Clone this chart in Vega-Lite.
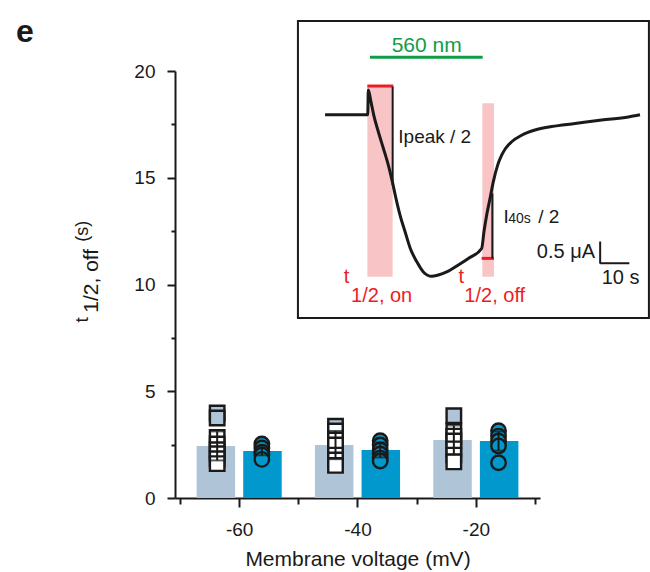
{
  "$schema": "https://vega.github.io/schema/vega-lite/v6.json",
  "width": 365,
  "height": 427,
  "autosize": {"type": "none"},
  "padding": {"left": 175, "top": 71, "right": 110, "bottom": 74},
  "background": "white",
  "config": {
    "view": {"stroke": null},
    "font": "Liberation Sans",
    "axis": {"domainColor": "#1a1a1a", "domainWidth": 2, "tickColor": "#1a1a1a", "tickWidth": 2, "labelColor": "#1a1a1a", "labelFont": "Liberation Sans", "labelFontSize": 19, "titleFont": "Liberation Sans", "titleFontSize": 21, "titleFontWeight": "normal", "titleColor": "#1a1a1a", "grid": false}
  },
  "datasets": {
    "bars": [
      {"v": -60, "g": "A", "t": 2.44, "lo": 1.76, "hi": 3.12},
      {"v": -60, "g": "B", "t": 2.20, "lo": 2.0, "hi": 2.4},
      {"v": -40, "g": "A", "t": 2.48, "lo": 1.82, "hi": 3.14},
      {"v": -40, "g": "B", "t": 2.25, "lo": 1.9, "hi": 2.6},
      {"v": -20, "g": "A", "t": 2.72, "lo": 2.05, "hi": 3.4},
      {"v": -20, "g": "B", "t": 2.67, "lo": 2.22, "hi": 3.12}
    ],
    "pts": [
      {"v": -60, "g": "A", "t": 3.98}, {"v": -60, "g": "A", "t": 3.75}, {"v": -60, "g": "A", "t": 2.84}, {"v": -60, "g": "A", "t": 2.53},
      {"v": -60, "g": "A", "t": 2.26}, {"v": -60, "g": "A", "t": 2.07}, {"v": -60, "g": "A", "t": 1.84}, {"v": -60, "g": "A", "t": 1.61},
      {"v": -60, "g": "B", "t": 2.53}, {"v": -60, "g": "B", "t": 2.34}, {"v": -60, "g": "B", "t": 2.15}, {"v": -60, "g": "B", "t": 2.01}, {"v": -60, "g": "B", "t": 1.81},
      {"v": -40, "g": "A", "t": 3.36}, {"v": -40, "g": "A", "t": 3.14}, {"v": -40, "g": "A", "t": 2.72}, {"v": -40, "g": "A", "t": 2.48},
      {"v": -40, "g": "A", "t": 2.01}, {"v": -40, "g": "A", "t": 1.78}, {"v": -40, "g": "A", "t": 1.53},
      {"v": -40, "g": "B", "t": 2.68}, {"v": -40, "g": "B", "t": 2.48}, {"v": -40, "g": "B", "t": 2.25}, {"v": -40, "g": "B", "t": 2.06}, {"v": -40, "g": "B", "t": 1.87}, {"v": -40, "g": "B", "t": 1.73},
      {"v": -20, "g": "A", "t": 3.85}, {"v": -20, "g": "A", "t": 3.14}, {"v": -20, "g": "A", "t": 2.90}, {"v": -20, "g": "A", "t": 2.67},
      {"v": -20, "g": "A", "t": 2.30}, {"v": -20, "g": "A", "t": 2.01}, {"v": -20, "g": "A", "t": 1.69},
      {"v": -20, "g": "B", "t": 3.15}, {"v": -20, "g": "B", "t": 2.90}, {"v": -20, "g": "B", "t": 2.67}, {"v": -20, "g": "B", "t": 2.44}, {"v": -20, "g": "B", "t": 1.65}
    ],
    "trace": [
      {"s": -14.6, "ua": 0}, {"s": 0, "ua": 0}, {"s": 0.21, "ua": 0.572}, {"s": 1.12, "ua": 0.30}, {"s": 2.04, "ua": 0.0},
      {"s": 3.63, "ua": -0.39}, {"s": 5.35, "ua": -0.77}, {"s": 7.06, "ua": -1.16}, {"s": 8.43, "ua": -1.54}, {"s": 9.69, "ua": -1.93},
      {"s": 11.06, "ua": -2.31}, {"s": 12.77, "ua": -2.69}, {"s": 14.59, "ua": -3.08}, {"s": 16.76, "ua": -3.38}, {"s": 19.05, "ua": -3.62},
      {"s": 21.9, "ua": -3.72}, {"s": 24.18, "ua": -3.69}, {"s": 27.04, "ua": -3.62}, {"s": 31.03, "ua": -3.46}, {"s": 34.46, "ua": -3.31},
      {"s": 39.02, "ua": -3.08}, {"s": 39.82, "ua": -2.69}, {"s": 40.74, "ua": -2.31}, {"s": 41.88, "ua": -1.93}, {"s": 43.02, "ua": -1.54},
      {"s": 44.5, "ua": -1.16}, {"s": 45.87, "ua": -0.93}, {"s": 47.24, "ua": -0.77}, {"s": 49.3, "ua": -0.62}, {"s": 52.72, "ua": -0.47},
      {"s": 57.29, "ua": -0.35}, {"s": 63.0, "ua": -0.27}, {"s": 70.99, "ua": -0.2}, {"s": 80.12, "ua": -0.12}, {"s": 89.25, "ua": -0.05}, {"s": 93.25, "ua": 0.0}
    ]
  },
  "layer": [
    {
      "layer": [
        {
          "data": {"name": "bars"},
          "transform": [{"filter": "datum.g === 'A'"}],
          "mark": {"type": "bar", "width": 38.5, "xOffset": -23.3, "color": "#b0c4d8"},
          "encoding": {
            "x": {"field": "v", "type": "quantitative", "scale": {"domain": [-70, -10], "nice": false, "zero": false},
                  "axis": {"orient": "bottom", "values": [-60, -40, -20], "labelExpr": "'' + datum.value", "tickSize": 9, "labelPadding": 13, "title": "Membrane voltage (mV)", "titlePadding": 9}},
            "y": {"field": "t", "type": "quantitative", "scale": {"domain": [0, 20], "nice": false},
                  "axis": {"orient": "left", "values": [0, 5, 10, 15, 20], "tickSize": 8, "labelPadding": 12, "title": null}}
          }
        },
        {
          "data": {"name": "bars"},
          "transform": [{"filter": "datum.g === 'B'"}],
          "mark": {"type": "bar", "width": 38.5, "xOffset": 23.3, "color": "#0098cd"},
          "encoding": {
            "x": {"field": "v", "type": "quantitative", "axis": null},
            "y": {"field": "t", "type": "quantitative", "axis": null}
          }
        },
        {
          "data": {"name": "pts"},
          "transform": [{"filter": "datum.g === 'A'"}],
          "mark": {"type": "point", "shape": "square", "size": 210, "filled": true, "stroke": "#1a1a1a", "strokeWidth": 2.4, "opacity": 1, "xOffset": -22},
          "encoding": {
            "x": {"field": "v", "type": "quantitative",
                  "axis": {"orient": "bottom", "values": [-70, -50, -30, -10], "labels": false, "tickSize": 6, "domain": false, "title": null}},
            "y": {"field": "t", "type": "quantitative",
                  "axis": {"orient": "left", "values": [2.5, 7.5, 12.5, 17.5], "labels": false, "tickSize": 4, "domain": false, "title": null}},
            "fill": {"condition": {"test": "datum.t > 3.3", "value": "#b0c4d8"}, "value": "white"}
          }
        },
        {
          "data": {"name": "pts"},
          "transform": [{"filter": "datum.g === 'B'"}],
          "mark": {"type": "point", "shape": "circle", "size": 210, "filled": true, "fill": "#0098cd", "stroke": "#1a1a1a", "strokeWidth": 2.4, "opacity": 1, "xOffset": 22.7},
          "encoding": {
            "x": {"field": "v", "type": "quantitative", "axis": null},
            "y": {"field": "t", "type": "quantitative", "axis": null}
          }
        },
        {
          "data": {"name": "bars"},
          "transform": [{"filter": "datum.g === 'A'"}],
          "mark": {"type": "rule", "color": "#1a1a1a", "strokeWidth": 2, "xOffset": -22},
          "encoding": {
            "x": {"field": "v", "type": "quantitative", "axis": null},
            "y": {"field": "lo", "type": "quantitative", "axis": null},
            "y2": {"field": "hi"}
          }
        },
        {
          "data": {"name": "bars"},
          "transform": [{"filter": "datum.g === 'A'"}, {"fold": ["lo", "hi"], "as": ["k", "val"]}],
          "mark": {"type": "tick", "orient": "horizontal", "color": "#1a1a1a", "size": 14, "thickness": 2, "xOffset": -22},
          "encoding": {
            "x": {"field": "v", "type": "quantitative", "axis": null},
            "y": {"field": "val", "type": "quantitative", "axis": null}
          }
        },
        {
          "data": {"name": "bars"},
          "transform": [{"filter": "datum.g === 'B'"}],
          "mark": {"type": "rule", "color": "#1a1a1a", "strokeWidth": 2, "xOffset": 22.7},
          "encoding": {
            "x": {"field": "v", "type": "quantitative", "axis": null},
            "y": {"field": "lo", "type": "quantitative", "axis": null},
            "y2": {"field": "hi"}
          }
        },
        {
          "data": {"name": "bars"},
          "transform": [{"filter": "datum.g === 'B'"}, {"fold": ["lo", "hi"], "as": ["k", "val"]}],
          "mark": {"type": "tick", "orient": "horizontal", "color": "#1a1a1a", "size": 13, "thickness": 2, "xOffset": 22.7},
          "encoding": {
            "x": {"field": "v", "type": "quantitative", "axis": null},
            "y": {"field": "val", "type": "quantitative", "axis": null}
          }
        },
        {
          "data": {"values": [{}]},
          "mark": {"type": "text", "text": "e", "fontSize": 32, "fontWeight": "bold", "align": "left", "baseline": "alphabetic", "dx": -164, "dy": -29, "color": "#1a1a1a"},
          "encoding": {"x": {"datum": -70, "type": "quantitative", "axis": null}, "y": {"datum": 20, "type": "quantitative", "axis": null}}
        },
        {
          "data": {"values": [{}]},
          "mark": {"type": "text", "text": "t", "fontSize": 19, "angle": 270, "align": "left", "baseline": "alphabetic", "dy": -91.7, "color": "#1a1a1a"},
          "encoding": {"x": {"datum": -70, "type": "quantitative", "axis": null}, "y": {"datum": 8.22, "type": "quantitative", "axis": null}}
        },
        {
          "data": {"values": [{}]},
          "mark": {"type": "text", "text": "1/2, off", "fontSize": 21, "angle": 270, "align": "left", "baseline": "alphabetic", "dy": -81.7, "color": "#1a1a1a"},
          "encoding": {"x": {"datum": -70, "type": "quantitative", "axis": null}, "y": {"datum": 8.68, "type": "quantitative", "axis": null}}
        },
        {
          "data": {"values": [{}]},
          "mark": {"type": "text", "text": "(s)", "fontSize": 18, "angle": 270, "align": "left", "baseline": "alphabetic", "dy": -91.7, "color": "#1a1a1a"},
          "encoding": {"x": {"datum": -70, "type": "quantitative", "axis": null}, "y": {"datum": 12.0, "type": "quantitative", "axis": null}}
        }
      ],
      "resolve": {"axis": {"x": "independent", "y": "independent"}}
    },
    {
      "layer": [
        {
          "data": {"values": [{}]},
          "mark": {"type": "rect", "fill": "white", "stroke": "#1a1a1a", "strokeWidth": 2},
          "encoding": {
            "x": {"datum": -23.9, "type": "quantitative", "scale": {"domain": [-66, 59], "nice": false, "zero": false}, "axis": null},
            "x2": {"datum": 96.3},
            "y": {"datum": 2.16, "type": "quantitative", "scale": {"domain": [-8.83, 1.01], "nice": false, "zero": false}, "axis": null},
            "y2": {"datum": -4.68}
          }
        },
        {
          "data": {"values": [{}]},
          "mark": {"type": "rect", "color": "#f9c4c6"},
          "encoding": {"x": {"datum": -0.13, "type": "quantitative", "axis": null}, "x2": {"datum": 8.54}, "y": {"datum": 0.664, "type": "quantitative", "axis": null}, "y2": {"datum": -3.73}}
        },
        {
          "data": {"values": [{}]},
          "mark": {"type": "rect", "color": "#f9c4c6"},
          "encoding": {"x": {"datum": 39.25, "type": "quantitative", "axis": null}, "x2": {"datum": 43.25}, "y": {"datum": 0.265, "type": "quantitative", "axis": null}, "y2": {"datum": -3.73}}
        },
        {
          "data": {"values": [{}]},
          "mark": {"type": "rule", "color": "#0f9d48", "strokeWidth": 3},
          "encoding": {"x": {"datum": 0.78, "type": "quantitative", "axis": null}, "x2": {"datum": 39.37}, "y": {"datum": 1.325, "type": "quantitative", "axis": null}}
        },
        {
          "data": {"values": [{}]},
          "mark": {"type": "rule", "color": "#ec1c24", "strokeWidth": 3},
          "encoding": {"x": {"datum": -0.13, "type": "quantitative", "axis": null}, "x2": {"datum": 8.77}, "y": {"datum": 0.664, "type": "quantitative", "axis": null}}
        },
        {
          "data": {"values": [{}]},
          "mark": {"type": "rule", "color": "#ec1c24", "strokeWidth": 3},
          "encoding": {"x": {"datum": 39.02, "type": "quantitative", "axis": null}, "x2": {"datum": 43.25}, "y": {"datum": -3.308, "type": "quantitative", "axis": null}}
        },
        {
          "data": {"values": [{}]},
          "mark": {"type": "rule", "color": "#1a1a1a", "strokeWidth": 2},
          "encoding": {"x": {"datum": 8.54, "type": "quantitative", "axis": null}, "y": {"datum": 0.649, "type": "quantitative", "axis": null}, "y2": {"datum": -1.617}}
        },
        {
          "data": {"values": [{}]},
          "mark": {"type": "rule", "color": "#1a1a1a", "strokeWidth": 2},
          "encoding": {"x": {"datum": 42.68, "type": "quantitative", "axis": null}, "y": {"datum": -1.81, "type": "quantitative", "axis": null}, "y2": {"datum": -3.308}}
        },
        {
          "data": {"name": "trace"},
          "mark": {"type": "line", "color": "#1a1a1a", "strokeWidth": 3, "interpolate": "monotone"},
          "encoding": {
            "x": {"field": "s", "type": "quantitative", "axis": null},
            "y": {"field": "ua", "type": "quantitative", "axis": null}
          }
        },
        {
          "data": {"values": [{}]},
          "mark": {"type": "rule", "color": "#1a1a1a", "strokeWidth": 2},
          "encoding": {"x": {"datum": 79.6, "type": "quantitative", "axis": null}, "y": {"datum": -2.92, "type": "quantitative", "axis": null}, "y2": {"datum": -3.43}}
        },
        {
          "data": {"values": [{}]},
          "mark": {"type": "rule", "color": "#1a1a1a", "strokeWidth": 2},
          "encoding": {"x": {"datum": 79.6, "type": "quantitative", "axis": null}, "x2": {"datum": 89.6}, "y": {"datum": -3.42, "type": "quantitative", "axis": null}}
        },
        {
          "data": {"values": [{}]},
          "mark": {"type": "text", "text": "560 nm", "fontSize": 21, "align": "center", "baseline": "alphabetic", "color": "#0f9d48"},
          "encoding": {"x": {"datum": 20.19, "type": "quantitative", "axis": null}, "y": {"datum": 1.455, "type": "quantitative", "axis": null}}
        },
        {
          "data": {"values": [{}]},
          "mark": {"type": "text", "text": "Ipeak / 2", "fontSize": 19, "align": "left", "baseline": "alphabetic", "color": "#1a1a1a"},
          "encoding": {"x": {"datum": 10.47, "type": "quantitative", "axis": null}, "y": {"datum": -0.64, "type": "quantitative", "axis": null}}
        },
        {
          "data": {"values": [{}]},
          "mark": {"type": "text", "text": "I", "fontSize": 19, "align": "left", "baseline": "alphabetic", "color": "#1a1a1a"},
          "encoding": {"x": {"datum": 46.5, "type": "quantitative", "axis": null}, "y": {"datum": -2.5, "type": "quantitative", "axis": null}}
        },
        {
          "data": {"values": [{}]},
          "mark": {"type": "text", "text": "40s", "fontSize": 14, "align": "left", "baseline": "alphabetic", "color": "#1a1a1a"},
          "encoding": {"x": {"datum": 48.14, "type": "quantitative", "axis": null}, "y": {"datum": -2.5, "type": "quantitative", "axis": null}}
        },
        {
          "data": {"values": [{}]},
          "mark": {"type": "text", "text": "/ 2", "fontSize": 19, "align": "left", "baseline": "alphabetic", "color": "#1a1a1a"},
          "encoding": {"x": {"datum": 58.4, "type": "quantitative", "axis": null}, "y": {"datum": -2.5, "type": "quantitative", "axis": null}}
        },
        {
          "data": {"values": [{}]},
          "mark": {"type": "text", "text": "0.5 μA", "fontSize": 20, "align": "right", "baseline": "alphabetic", "color": "#1a1a1a"},
          "encoding": {"x": {"datum": 77.84, "type": "quantitative", "axis": null}, "y": {"datum": -3.31, "type": "quantitative", "axis": null}}
        },
        {
          "data": {"values": [{}]},
          "mark": {"type": "text", "text": "10 s", "fontSize": 20, "align": "left", "baseline": "alphabetic", "color": "#1a1a1a"},
          "encoding": {"x": {"datum": 80.13, "type": "quantitative", "axis": null}, "y": {"datum": -3.9, "type": "quantitative", "axis": null}}
        },
        {
          "data": {"values": [{}]},
          "mark": {"type": "text", "text": "t", "fontSize": 20, "align": "left", "baseline": "alphabetic", "color": "#ec1c24"},
          "encoding": {"x": {"datum": -8.2, "type": "quantitative", "axis": null}, "y": {"datum": -3.88, "type": "quantitative", "axis": null}}
        },
        {
          "data": {"values": [{}]},
          "mark": {"type": "text", "text": "1/2, on", "fontSize": 20, "align": "left", "baseline": "alphabetic", "color": "#ec1c24"},
          "encoding": {"x": {"datum": -5.7, "type": "quantitative", "axis": null}, "y": {"datum": -4.31, "type": "quantitative", "axis": null}}
        },
        {
          "data": {"values": [{}]},
          "mark": {"type": "text", "text": "t", "fontSize": 20, "align": "left", "baseline": "alphabetic", "color": "#ec1c24"},
          "encoding": {"x": {"datum": 31.1, "type": "quantitative", "axis": null}, "y": {"datum": -3.88, "type": "quantitative", "axis": null}}
        },
        {
          "data": {"values": [{}]},
          "mark": {"type": "text", "text": "1/2, off", "fontSize": 20, "align": "left", "baseline": "alphabetic", "color": "#ec1c24"},
          "encoding": {"x": {"datum": 33.1, "type": "quantitative", "axis": null}, "y": {"datum": -4.31, "type": "quantitative", "axis": null}}
        }
      ]
    }
  ],
  "resolve": {"scale": {"x": "independent", "y": "independent"}}
}
